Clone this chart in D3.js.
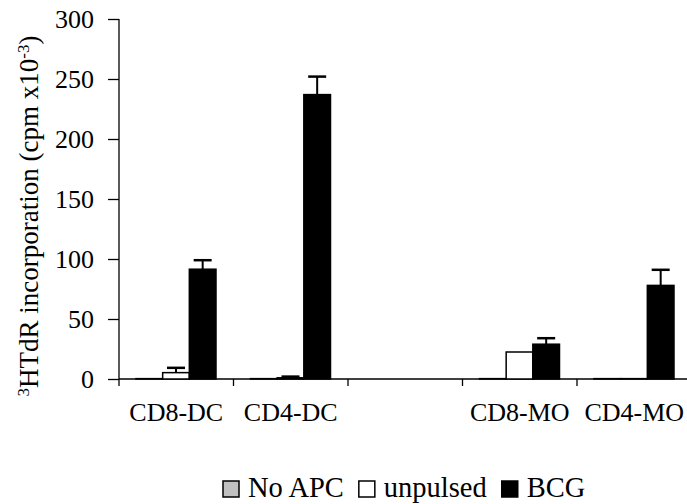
<!DOCTYPE html>
<html>
<head>
<meta charset="utf-8">
<script src="https://cdnjs.cloudflare.com/ajax/libs/d3/7.8.5/d3.min.js"></script>
<style>
  body { margin: 0; background: #fff; }
  svg text { font-family: "Liberation Serif", "Times New Roman", serif !important; fill: #000; }
</style>
</head>
<body>
<svg id="chart" width="687" height="504"></svg>
<script>
// Data (cpm x10^-3)
const categories = ["CD8-DC", "CD4-DC", "", "CD8-MO", "CD4-MO"];
const series = ["No APC", "unpulsed", "BCG"];
const noApc = [0.3, 0.3, null, 0.3, 0.3];
const unpulsed = [5.3, 1.0, null, 22.5, 0.3];
const bcg = [91.5, 237, null, 29, 78];
const unpulsedErr = [4, 1, null, 0, 0];
const bcgErr = [7.5, 15, null, 5, 13];
const yTicks = [0, 50, 100, 150, 200, 250, 300];

const seriesValues = [noApc, unpulsed, bcg];
const seriesErr = [null, unpulsedErr, bcgErr];
const fills = ["#c0c0c0", "#ffffff", "#000000"];

const svg = d3.select("#chart");

// Scales
const x = d3.scaleBand().domain(d3.range(categories.length)).range([119, 691.5]);
const xSub = d3.scaleBand().domain(series).range([17, x.bandwidth() - 17.5]);
const y = d3.scaleLinear().domain([0, 300]).range([379, 19]);

// Y axis
const yAxis = svg.append("g").attr("transform", "translate(119,0)")
  .call(d3.axisLeft(y).tickValues(yTicks).tickSize(11).tickPadding(14));
yAxis.attr("font-family", null);
yAxis.select(".domain").attr("d", `M0,${y(300)}V${y(0)}`).attr("stroke", "#000").attr("stroke-width", 1.3);
yAxis.selectAll(".tick line").attr("stroke", "#000").attr("stroke-width", 1.3);
yAxis.selectAll(".tick text").attr("font-size", 26);

// X axis line and ticks at category boundaries
svg.append("line")
  .attr("x1", 119).attr("x2", 687)
  .attr("y1", y(0)).attr("y2", y(0))
  .attr("stroke", "#000").attr("stroke-width", 1.3);
svg.selectAll(".xtick")
  .data(d3.range(categories.length))
  .join("line")
  .attr("class", "xtick")
  .attr("x1", (d) => x(d)).attr("x2", (d) => x(d))
  .attr("y1", y(0)).attr("y2", y(0) + 7)
  .attr("stroke", "#000").attr("stroke-width", 1.3);

// X labels
svg.selectAll(".xlabel")
  .data(categories)
  .join("text")
  .attr("class", "xlabel")
  .attr("x", (d, i) => x(i) + x.bandwidth() / 2)
  .attr("y", 421)
  .attr("text-anchor", "middle")
  .attr("font-size", 26)
  .text((d) => d);

// Bars
series.forEach((s, si) => {
  const vals = seriesValues[si];
  const g = svg.append("g");
  g.selectAll("rect")
    .data(vals.map((v, i) => ({ v, i })).filter((d) => d.v !== null))
    .join("rect")
    .attr("x", (d) => x(d.i) + xSub(s))
    .attr("width", xSub.bandwidth())
    .attr("y", (d) => y(d.v))
    .attr("height", (d) => y(0) - y(d.v))
    .attr("fill", fills[si])
    .attr("stroke", "#000")
    .attr("stroke-width", 1.5);

  // Error bars (upper only)
  const errs = seriesErr[si];
  if (errs) {
    const eb = vals.map((v, i) => ({ v, e: errs[i], i })).filter((d) => d.v !== null && d.e > 0);
    const cx = (d) => x(d.i) + xSub(s) + xSub.bandwidth() / 2;
    g.selectAll(".err")
      .data(eb)
      .join("line")
      .attr("class", "err")
      .attr("x1", cx).attr("x2", cx)
      .attr("y1", (d) => y(d.v)).attr("y2", (d) => y(d.v + d.e))
      .attr("stroke", "#000").attr("stroke-width", 2);
    g.selectAll(".cap")
      .data(eb)
      .join("line")
      .attr("class", "cap")
      .attr("x1", (d) => cx(d) - 9).attr("x2", (d) => cx(d) + 9)
      .attr("y1", (d) => y(d.v + d.e)).attr("y2", (d) => y(d.v + d.e))
      .attr("stroke", "#000").attr("stroke-width", 2.5);
  }
});

// Y axis title
const title = svg.append("text")
  .attr("transform", `translate(38,${(y(0) + y(300)) / 2 + 17}) rotate(-90)`)
  .attr("text-anchor", "middle")
  .attr("font-size", 27);
title.append("tspan").attr("font-size", 17).attr("dy", -9).text("3");
title.append("tspan").attr("dy", 9).text("HTdR incorporation (cpm x10");
title.append("tspan").attr("font-size", 17).attr("dy", -9).text("-3");
title.append("tspan").attr("dy", 9).text(")");

// Legend
const legend = svg.append("g").attr("transform", "translate(223,0)");
let lx = 0;
series.forEach((s, si) => {
  legend.append("rect")
    .attr("x", lx).attr("y", 481)
    .attr("width", 16).attr("height", 16)
    .attr("fill", fills[si])
    .attr("stroke", "#000").attr("stroke-width", 1.5);
  const t = legend.append("text")
    .attr("x", lx + 25).attr("y", 497)
    .attr("font-size", 28.5)
    .text(s);
  lx += 25 + t.node().getComputedTextLength() + 15;
});
</script>
</body>
</html>
